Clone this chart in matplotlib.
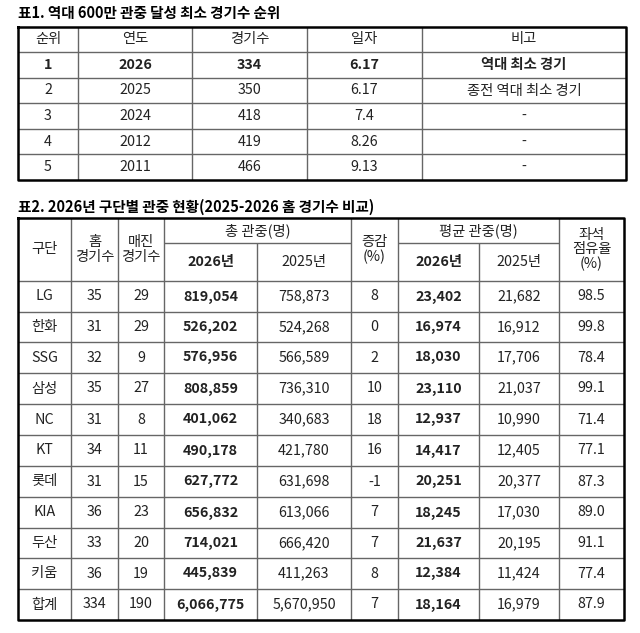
import matplotlib
matplotlib.use("Agg")
import matplotlib.pyplot as plt

plt.rcParams['font.family'] = ['Noto Sans CJK KR', 'DejaVu Sans']

title1 = "표1. 역대 600만 관중 달성 최소 경기수 순위"
t1_header = ["순위", "연도", "경기수", "일자", "비고"]
t1_rank = ["1", "2", "3", "4", "5"]
t1_year = ["2026", "2025", "2024", "2012", "2011"]
t1_games = ["334", "350", "418", "419", "466"]
t1_date = ["6.17", "6.17", "7.4", "8.26", "9.13"]
t1_note = ["역대 최소 경기", "종전 역대 최소 경기", "-", "-", "-"]

title2 = "표2. 2026년 구단별 관중 현황(2025-2026 홈 경기수 비교)"
teams = ["LG", "한화", "SSG", "삼성", "NC", "KT", "롯데", "KIA", "두산", "키움", "합계"]
home_games = ["35", "31", "32", "35", "31", "34", "31", "36", "33", "36", "334"]
sellouts = ["29", "29", "9", "27", "8", "11", "15", "23", "20", "19", "190"]
total_2026 = ["819,054", "526,202", "576,956", "808,859", "401,062", "490,178", "627,772", "656,832", "714,021", "445,839", "6,066,775"]
total_2025 = ["758,873", "524,268", "566,589", "736,310", "340,683", "421,780", "631,698", "613,066", "666,420", "411,263", "5,670,950"]
change = ["8", "0", "2", "10", "18", "16", "-1", "7", "7", "8", "7"]
avg_2026 = ["23,402", "16,974", "18,030", "23,110", "12,937", "14,417", "20,251", "18,245", "21,637", "12,384", "18,164"]
avg_2025 = ["21,682", "16,912", "17,706", "21,037", "10,990", "12,405", "20,377", "17,030", "20,195", "11,424", "16,979"]
occupancy = ["98.5", "99.8", "78.4", "99.1", "71.4", "77.1", "87.3", "89.0", "91.1", "77.4", "87.9"]

fig = plt.figure(figsize=(6.4, 6.33), dpi=100)
ax = fig.add_axes([0, 0, 1, 1])
ax.set_xlim(0, 640)
ax.set_ylim(633, 0)
ax.axis('off')

FS = 10.3
TXT = "#222222"
GRID = "#666666"

def hline(y, x0, x1, lw=1.0, c=GRID):
    ax.plot([x0, x1], [y, y], color=c, lw=lw, solid_capstyle='butt')

def vline(x, y0, y1, lw=1.0, c=GRID):
    ax.plot([x, x], [y0, y1], color=c, lw=lw, solid_capstyle='butt')

def border(x0, y0, x1, y1):
    ax.plot([x0, x1, x1, x0, x0], [y0, y0, y1, y1, y0], color="black", lw=1.8)

def txt(x, y, s, bold=False, fs=FS):
    ax.text(x, y, s, ha='center', va='center', fontsize=fs, color=TXT,
            fontweight='bold' if bold else 'normal', linespacing=1.05)

# ---- Table 1 ----
ax.text(18, 13, title1, ha='left', va='center', fontsize=10.5, fontweight='bold', color="black")
c1 = [18, 78, 192, 307, 422, 626]
r1 = [27, 52, 78, 103, 129, 154, 180]
for y in r1[1:-1]:
    hline(y, c1[0], c1[-1])
for x in c1[1:-1]:
    vline(x, r1[0], r1[-1])
border(c1[0], r1[0], c1[-1], r1[-1])
for j, h in enumerate(t1_header):
    txt((c1[j] + c1[j+1]) / 2, (r1[0] + r1[1]) / 2, h)
cols1 = [t1_rank, t1_year, t1_games, t1_date, t1_note]
for i in range(len(t1_rank)):
    yc = (r1[i+1] + r1[i+2]) / 2
    for j, col in enumerate(cols1):
        txt((c1[j] + c1[j+1]) / 2, yc, col[i], bold=(i == 0))

# ---- Table 2 ----
ax.text(18, 207, title2, ha='left', va='center', fontsize=10.5, fontweight='bold', color="black")
c2 = [18, 71, 118, 164, 257, 351, 398, 479, 559, 624]
top, mid, hb = 218, 243, 281
r2 = [hb, 312, 342, 373, 404, 435, 466, 497, 528, 558, 589, 620]
for y in r2[1:-1]:
    hline(y, c2[0], c2[-1])
hline(hb, c2[0], c2[-1])
hline(mid, c2[3], c2[5])
hline(mid, c2[6], c2[8])
for k, x in enumerate(c2[1:-1], start=1):
    if k in (4, 7):
        vline(x, mid, r2[-1])
    else:
        vline(x, top, r2[-1])
border(c2[0], top, c2[-1], r2[-1])

hy = (top + hb) / 2
txt((c2[0] + c2[1]) / 2, hy, "구단")
txt((c2[1] + c2[2]) / 2, hy, "홈\n경기수")
txt((c2[2] + c2[3]) / 2, hy, "매진\n경기수")
txt((c2[3] + c2[5]) / 2, (top + mid) / 2, "총 관중(명)")
txt((c2[3] + c2[4]) / 2, (mid + hb) / 2, "2026년", bold=True)
txt((c2[4] + c2[5]) / 2, (mid + hb) / 2, "2025년")
txt((c2[5] + c2[6]) / 2, hy, "증감\n(%)")
txt((c2[6] + c2[8]) / 2, (top + mid) / 2, "평균 관중(명)")
txt((c2[6] + c2[7]) / 2, (mid + hb) / 2, "2026년", bold=True)
txt((c2[7] + c2[8]) / 2, (mid + hb) / 2, "2025년")
txt((c2[8] + c2[9]) / 2, hy, "좌석\n점유율\n(%)")

cols2 = [teams, home_games, sellouts, total_2026, total_2025, change, avg_2026, avg_2025, occupancy]
bold_cols = {3, 6}
for i in range(len(teams)):
    yc = (r2[i] + r2[i+1]) / 2
    for j, col in enumerate(cols2):
        txt((c2[j] + c2[j+1]) / 2, yc, col[i], bold=(j in bold_cols))

fig.savefig("out.png", dpi=100)
